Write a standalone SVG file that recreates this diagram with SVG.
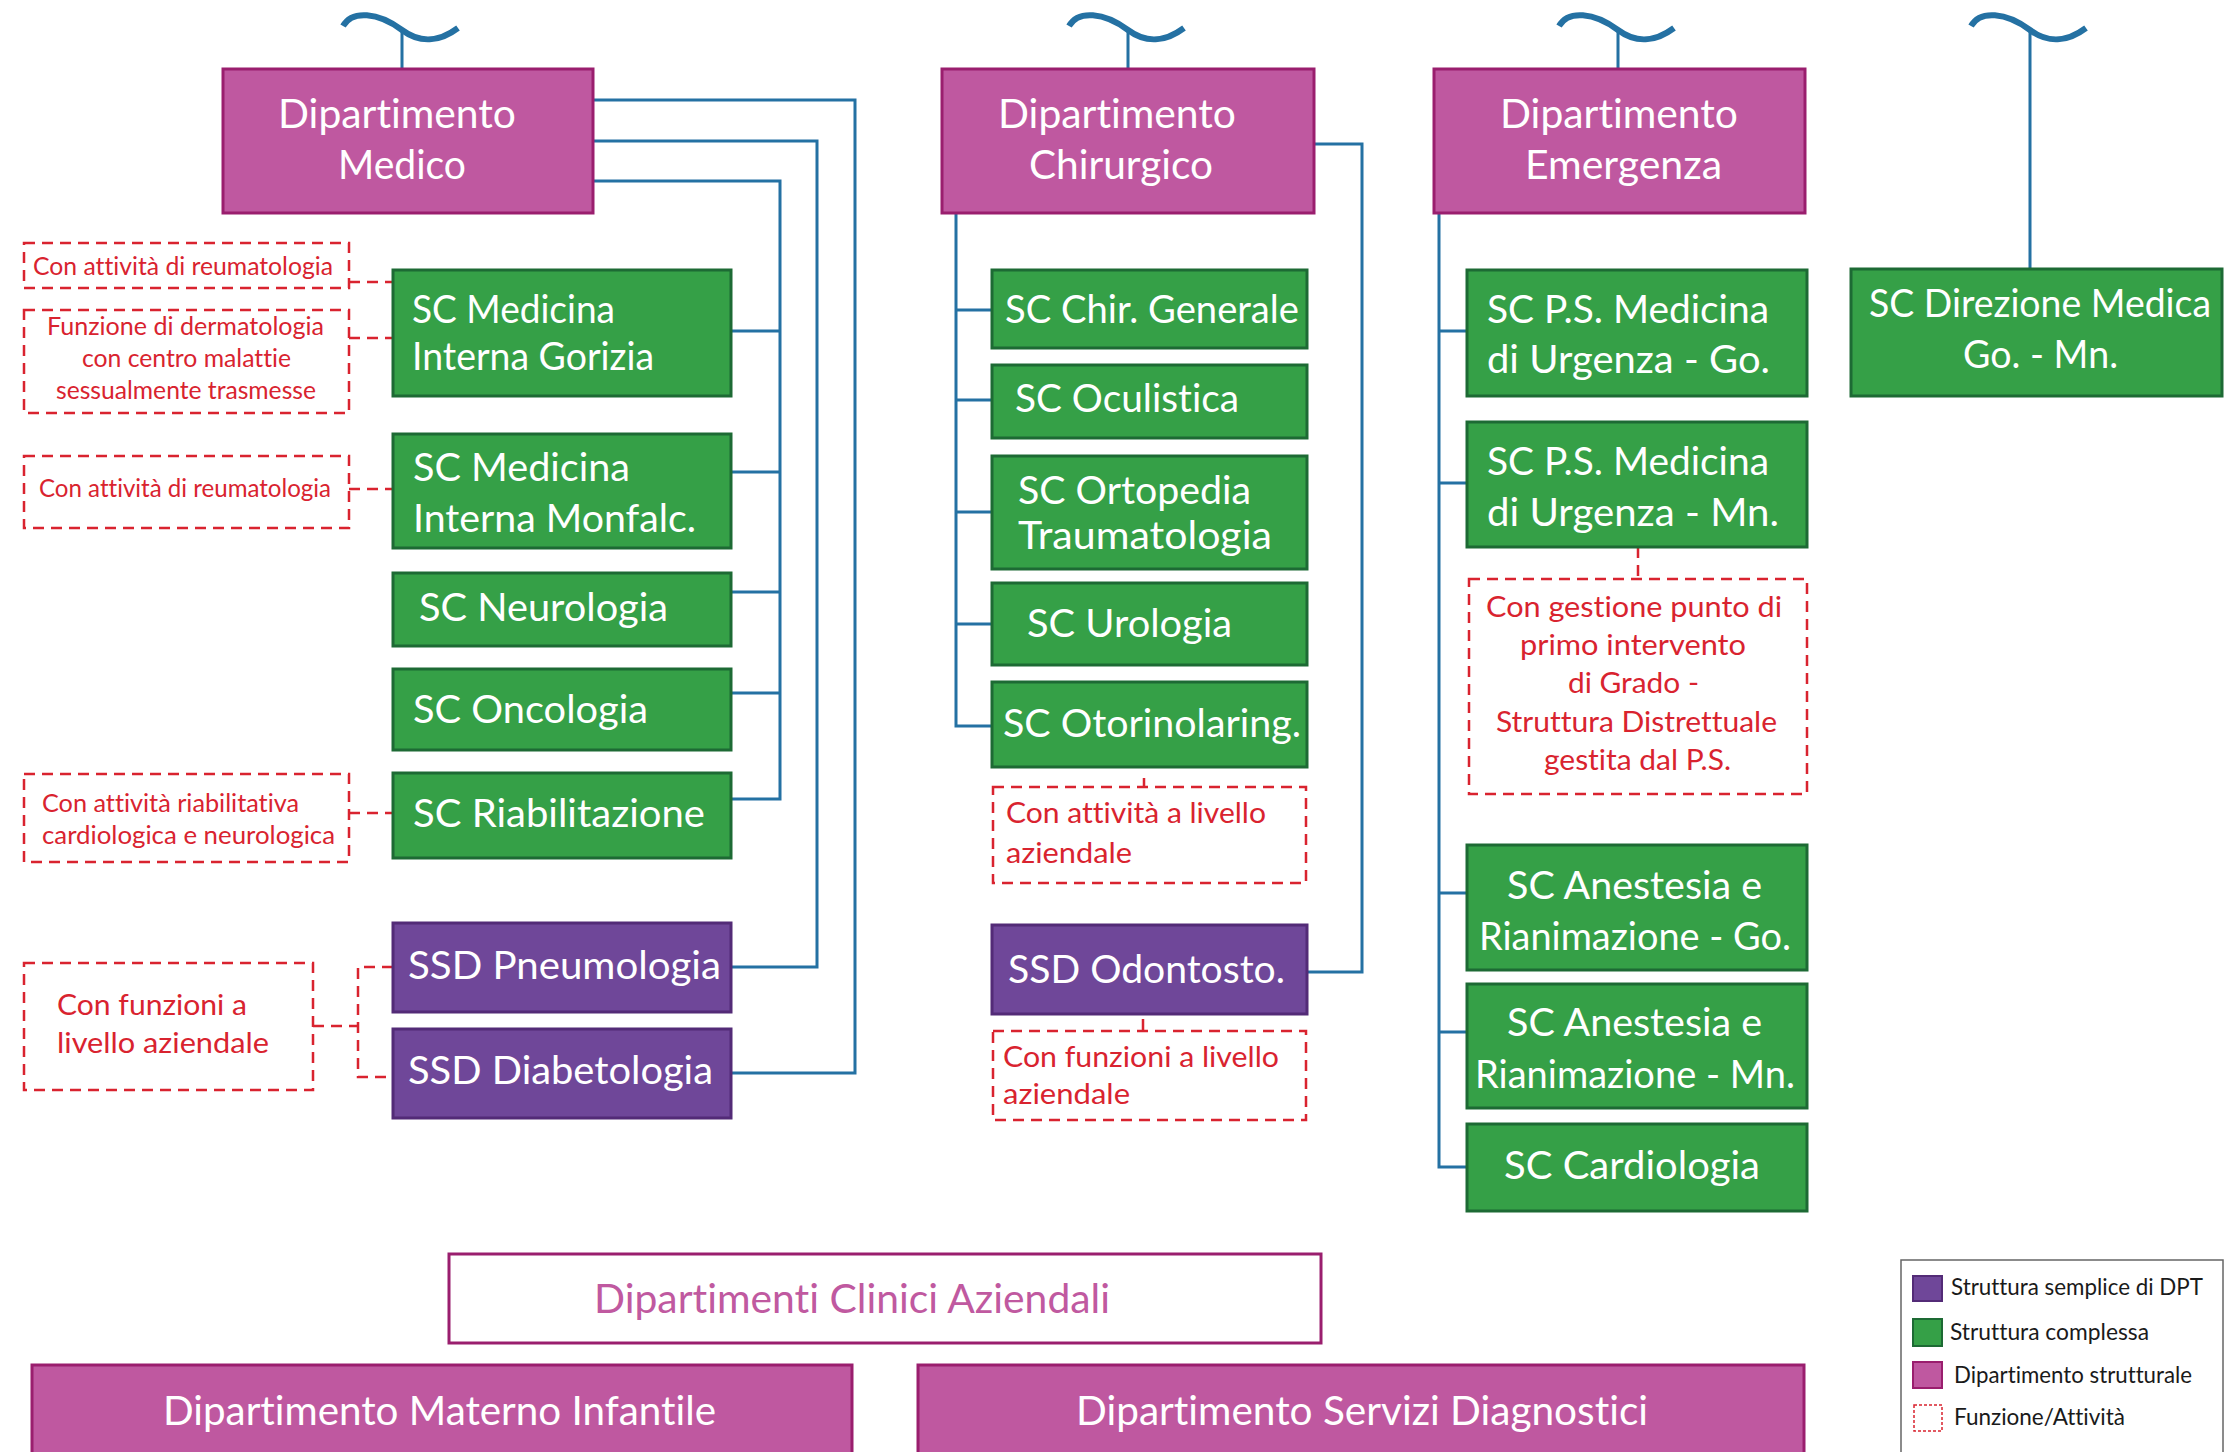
<svg xmlns="http://www.w3.org/2000/svg" width="2228" height="1452" viewBox="0 0 2228 1452">
<defs>
<style>
text{font-family:Lato,"Open Sans","Liberation Sans",sans-serif;font-variant-ligatures:none;font-feature-settings:"liga" 0,"dlig" 0}
.conn{fill:none;stroke:#2471A3;stroke-width:3}
.tilde{fill:none;stroke:#2471A3;stroke-width:6}
.dept{fill:#BF58A0;stroke:#9A1E6E;stroke-width:3}
.sc{fill:#35A047;stroke:#1D6A34;stroke-width:3}
.ssd{fill:#6F4799;stroke:#532B77;stroke-width:3}
.fn{fill:none;stroke:#D9232F;stroke-width:2.5;stroke-dasharray:11 7}
.w{fill:#fff;font-size:39px}
.t{fill:#fff;font-size:40px}
.r{fill:#D9232F;font-size:25px}
.r2{fill:#D9232F;font-size:28px}
.lg{fill:#1a1a1a;font-size:23px}
</style>
<path id="tl" class="tilde" d="M-59,26 C-50,10 -24,12 0,30 C20,45 40,40 56,28"/>
</defs>
<rect width="2228" height="1452" fill="#fff"/>

<g id="connectors">
<use href="#tl" x="402"/><use href="#tl" x="1128"/><use href="#tl" x="1618"/><use href="#tl" x="2030"/>
<path class="conn" d="M402,32 V69 M1128,32 V69 M1618,32 V69 M2030,32 V269"/>
<path class="conn" d="M593,100 H855 V1073 H731 M593,141 H817 V967 H731 M593,181 H780 V799 H731 M731,331 H780 M731,472 H780 M731,592 H780 M731,693 H780"/>
<path class="conn" d="M956,213 V726 H992 M956,310 H992 M956,400 H992 M956,512 H992 M956,624 H992 M1314,144 H1362 V972 H1307"/>
<path class="conn" d="M1439,213 V1167 H1467 M1439,331 H1467 M1439,483 H1467 M1439,893 H1467 M1439,1032 H1467"/>
<path class="fn" d="M349,282 H393 M349,338 H393 M349,489 H393 M349,813 H393 M313,1026 H358 M393,967 H358 V1077 H393 M1144,778 V787 M1143,1019 V1031 M1638,547 V579"/>
</g>

<g id="dip-medico"><rect class="dept" x="223" y="69" width="370" height="144"/>
<text class="t" x="278" y="128" textLength="238" lengthAdjust="spacingAndGlyphs">Dipartimento</text>
<text class="t" x="338" y="179" textLength="128" lengthAdjust="spacingAndGlyphs">Medico</text></g>
<g id="dip-chirurgico"><rect class="dept" x="942" y="69" width="372" height="144"/>
<text class="t" x="998" y="128" textLength="238" lengthAdjust="spacingAndGlyphs">Dipartimento</text>
<text class="t" x="1029" y="179" textLength="184" lengthAdjust="spacingAndGlyphs">Chirurgico</text></g>
<g id="dip-emergenza"><rect class="dept" x="1434" y="69" width="371" height="144"/>
<text class="t" x="1500" y="128" textLength="238" lengthAdjust="spacingAndGlyphs">Dipartimento</text>
<text class="t" x="1525" y="179" textLength="197" lengthAdjust="spacingAndGlyphs">Emergenza</text></g>

<g id="sc-med-gorizia"><rect class="sc" x="393" y="270" width="338" height="126"/>
<text class="w" x="412" y="323" font-size="37" textLength="203" lengthAdjust="spacingAndGlyphs">SC Medicina</text>
<text class="w" x="412" y="370" font-size="37" textLength="242" lengthAdjust="spacingAndGlyphs">Interna Gorizia</text></g>
<g id="sc-med-monfalc"><rect class="sc" x="393" y="434" width="338" height="114"/>
<text class="w" x="413" y="481" textLength="217" lengthAdjust="spacingAndGlyphs">SC Medicina</text>
<text class="w" x="413" y="532" textLength="283" lengthAdjust="spacingAndGlyphs">Interna Monfalc.</text></g>
<g id="sc-neurologia"><rect class="sc" x="393" y="573" width="338" height="73"/>
<text class="w" x="419" y="621" textLength="249" lengthAdjust="spacingAndGlyphs">SC Neurologia</text></g>
<g id="sc-oncologia"><rect class="sc" x="393" y="669" width="338" height="81"/>
<text class="w" x="413" y="723" textLength="235" lengthAdjust="spacingAndGlyphs">SC Oncologia</text></g>
<g id="sc-riabilitazione"><rect class="sc" x="393" y="773" width="338" height="85"/>
<text class="w" x="413" y="827" textLength="292" lengthAdjust="spacingAndGlyphs">SC Riabilitazione</text></g>
<g id="ssd-pneumologia"><rect class="ssd" x="393" y="923" width="338" height="89"/>
<text class="w" x="408" y="979" textLength="313" lengthAdjust="spacingAndGlyphs">SSD Pneumologia</text></g>
<g id="ssd-diabetologia"><rect class="ssd" x="393" y="1029" width="338" height="89"/>
<text class="w" x="408" y="1084" textLength="305" lengthAdjust="spacingAndGlyphs">SSD Diabetologia</text></g>

<g id="fn-reuma-1"><rect class="fn" x="24" y="243" width="325" height="45"/>
<text class="r" x="33" y="275" textLength="300" lengthAdjust="spacingAndGlyphs">Con attività di reumatologia</text></g>
<g id="fn-dermatologia"><rect class="fn" x="24" y="310" width="325" height="103"/>
<text class="r" x="47" y="335" textLength="277" lengthAdjust="spacingAndGlyphs">Funzione di dermatologia</text>
<text class="r" x="82" y="367" textLength="209" lengthAdjust="spacingAndGlyphs">con centro malattie</text>
<text class="r" x="56" y="399" textLength="260" lengthAdjust="spacingAndGlyphs">sessualmente trasmesse</text></g>
<g id="fn-reuma-2"><rect class="fn" x="24" y="456" width="325" height="72"/>
<text class="r" x="39" y="497" textLength="292" lengthAdjust="spacingAndGlyphs">Con attività di reumatologia</text></g>
<g id="fn-riab"><rect class="fn" x="24" y="774" width="325" height="88"/>
<text class="r" x="42" y="812" textLength="257" lengthAdjust="spacingAndGlyphs">Con attività riabilitativa</text>
<text class="r" x="42" y="844" textLength="293" lengthAdjust="spacingAndGlyphs">cardiologica e neurologica</text></g>
<g id="fn-aziendale-1"><rect class="fn" x="24" y="963" width="289" height="127"/>
<text class="r2" x="57" y="1015" font-size="29" textLength="190" lengthAdjust="spacingAndGlyphs">Con funzioni a</text>
<text class="r2" x="57" y="1053" font-size="29" textLength="212" lengthAdjust="spacingAndGlyphs">livello aziendale</text></g>

<g id="sc-chir-generale"><rect class="sc" x="992" y="270" width="315" height="78"/>
<text class="w" x="1005" y="323" textLength="294" lengthAdjust="spacingAndGlyphs">SC Chir. Generale</text></g>
<g id="sc-oculistica"><rect class="sc" x="992" y="365" width="315" height="73"/>
<text class="w" x="1015" y="412" textLength="224" lengthAdjust="spacingAndGlyphs">SC Oculistica</text></g>
<g id="sc-ortopedia"><rect class="sc" x="992" y="456" width="315" height="113"/>
<text class="w" x="1018" y="504" textLength="233" lengthAdjust="spacingAndGlyphs">SC Ortopedia</text>
<text class="w" x="1018" y="549" textLength="254" lengthAdjust="spacingAndGlyphs">Traumatologia</text></g>
<g id="sc-urologia"><rect class="sc" x="992" y="583" width="315" height="82"/>
<text class="w" x="1027" y="637" textLength="205" lengthAdjust="spacingAndGlyphs">SC Urologia</text></g>
<g id="sc-otorino"><rect class="sc" x="992" y="682" width="315" height="85"/>
<text class="w" x="1003" y="737" textLength="298" lengthAdjust="spacingAndGlyphs">SC Otorinolaring.</text></g>
<g id="fn-otorino"><rect class="fn" x="993" y="787" width="313" height="96"/>
<text class="r2" x="1006" y="823" font-size="27" textLength="260" lengthAdjust="spacingAndGlyphs">Con attività a livello</text>
<text class="r2" x="1006" y="863" font-size="27" textLength="126" lengthAdjust="spacingAndGlyphs">aziendale</text></g>
<g id="ssd-odontosto"><rect class="ssd" x="992" y="925" width="315" height="89"/>
<text class="w" x="1008" y="983" textLength="277" lengthAdjust="spacingAndGlyphs">SSD Odontosto.</text></g>
<g id="fn-odontosto"><rect class="fn" x="993" y="1031" width="313" height="89"/>
<text class="r2" x="1003" y="1067" font-size="27" textLength="276" lengthAdjust="spacingAndGlyphs">Con funzioni a livello</text>
<text class="r2" x="1003" y="1104" font-size="27" textLength="127" lengthAdjust="spacingAndGlyphs">aziendale</text></g>

<g id="sc-ps-go"><rect class="sc" x="1467" y="270" width="340" height="126"/>
<text class="w" x="1487" y="323" textLength="282" lengthAdjust="spacingAndGlyphs">SC P.S. Medicina</text>
<text class="w" x="1487" y="373" textLength="283" lengthAdjust="spacingAndGlyphs">di Urgenza - Go.</text></g>
<g id="sc-ps-mn"><rect class="sc" x="1467" y="422" width="340" height="125"/>
<text class="w" x="1487" y="475" textLength="282" lengthAdjust="spacingAndGlyphs">SC P.S. Medicina</text>
<text class="w" x="1487" y="526" textLength="292" lengthAdjust="spacingAndGlyphs">di Urgenza - Mn.</text></g>
<g id="fn-grado"><rect class="fn" x="1469" y="579" width="338" height="215"/>
<text class="r2" x="1486" y="617" font-size="29" textLength="296" lengthAdjust="spacingAndGlyphs">Con gestione punto di</text>
<text class="r2" x="1520" y="655" font-size="29" textLength="226" lengthAdjust="spacingAndGlyphs">primo intervento</text>
<text class="r2" x="1568" y="693" font-size="29" textLength="131" lengthAdjust="spacingAndGlyphs">di Grado -</text>
<text class="r2" x="1496" y="732" font-size="29" textLength="281" lengthAdjust="spacingAndGlyphs">Struttura Distrettuale</text>
<text class="r2" x="1544" y="770" font-size="29" textLength="187" lengthAdjust="spacingAndGlyphs">gestita dal P.S.</text></g>
<g id="sc-anestesia-go"><rect class="sc" x="1467" y="845" width="340" height="125"/>
<text class="w" x="1507" y="899" textLength="255" lengthAdjust="spacingAndGlyphs">SC Anestesia e</text>
<text class="w" x="1479" y="950" textLength="312" lengthAdjust="spacingAndGlyphs">Rianimazione - Go.</text></g>
<g id="sc-anestesia-mn"><rect class="sc" x="1467" y="984" width="340" height="124"/>
<text class="w" x="1507" y="1036" textLength="255" lengthAdjust="spacingAndGlyphs">SC Anestesia e</text>
<text class="w" x="1475" y="1088" textLength="320" lengthAdjust="spacingAndGlyphs">Rianimazione - Mn.</text></g>
<g id="sc-cardiologia"><rect class="sc" x="1467" y="1124" width="340" height="87"/>
<text class="w" x="1504" y="1179" textLength="256" lengthAdjust="spacingAndGlyphs">SC Cardiologia</text></g>

<g id="sc-direzione"><rect class="sc" x="1851" y="269" width="371" height="127"/>
<text class="w" x="1869" y="317" textLength="342" lengthAdjust="spacingAndGlyphs">SC Direzione Medica</text>
<text class="w" x="1963" y="368" textLength="155" lengthAdjust="spacingAndGlyphs">Go. - Mn.</text></g>

<g id="dip-clinici"><rect x="449" y="1254" width="872" height="89" fill="#fff" stroke="#9A1E6E" stroke-width="3"/>
<text x="594" y="1313" font-size="40" fill="#C059A0" textLength="516" lengthAdjust="spacingAndGlyphs">Dipartimenti Clinici Aziendali</text></g>
<g id="dip-materno"><rect class="dept" x="32" y="1365" width="820" height="100"/>
<text class="t" x="163" y="1425" textLength="553" lengthAdjust="spacingAndGlyphs">Dipartimento Materno Infantile</text></g>
<g id="dip-servizi"><rect class="dept" x="918" y="1365" width="886" height="100"/>
<text class="t" x="1076" y="1425" textLength="572" lengthAdjust="spacingAndGlyphs">Dipartimento Servizi Diagnostici</text></g>

<g id="legend"><rect x="1901" y="1260" width="322" height="200" fill="#fff" stroke="#666" stroke-width="1.5"/>
<rect x="1913" y="1276" width="29" height="25" fill="#6F4799" stroke="#532B77" stroke-width="2"/>
<rect x="1913" y="1319" width="29" height="27" fill="#35A047" stroke="#1D6A34" stroke-width="2"/>
<rect x="1913" y="1362" width="29" height="26" fill="#BF58A0" stroke="#9A1E6E" stroke-width="2"/>
<rect x="1914" y="1405" width="28" height="26" fill="none" stroke="#D9232F" stroke-width="1.5" stroke-dasharray="3 2"/>
<text class="lg" x="1951" y="1295" textLength="252" lengthAdjust="spacingAndGlyphs">Struttura semplice di DPT</text>
<text class="lg" x="1950" y="1340" textLength="199" lengthAdjust="spacingAndGlyphs">Struttura complessa</text>
<text class="lg" x="1954" y="1383" textLength="238" lengthAdjust="spacingAndGlyphs">Dipartimento strutturale</text>
<text class="lg" x="1954" y="1425" textLength="171" lengthAdjust="spacingAndGlyphs">Funzione/Attività</text></g>
</svg>
